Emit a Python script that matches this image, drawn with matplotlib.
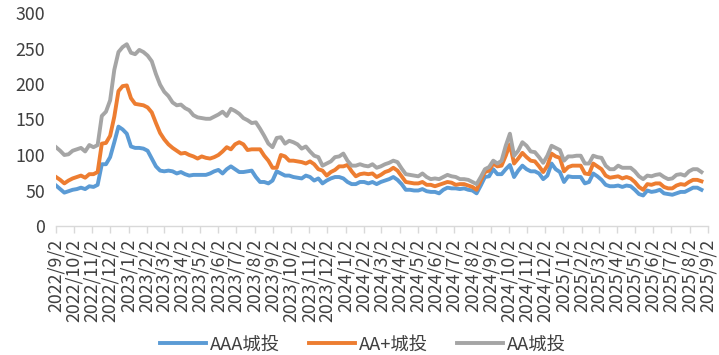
import matplotlib
matplotlib.use("Agg")
import matplotlib.pyplot as plt
import pandas as pd

plt.rcParams["font.family"] = ["Noto Sans CJK SC", "DejaVu Sans"]

# weekly observations, Friday 2022/9/2 onwards
start_date = "2022-09-02"
n_weeks = 156

aaa = [57, 52, 47, 49, 51, 52, 54, 52, 56, 55,
       58, 87, 87, 97, 118, 140, 136, 130, 112, 110,
       110, 109, 106, 95, 84, 78, 77, 78, 77, 74,
       76, 73, 71, 72, 72, 72, 72, 74, 77, 79,
       74, 80, 84, 80, 76, 76, 77, 78, 69, 62,
       62, 60, 64, 77, 74, 71, 71, 69, 68, 67,
       71, 69, 64, 67, 60, 64, 67, 69, 69, 67,
       62, 59, 59, 62, 62, 60, 62, 59, 62, 64,
       66, 69, 65, 59, 51, 51, 50, 50, 52, 49,
       48, 48, 46, 51, 54, 53, 53, 52, 53, 51,
       50, 46, 57, 69, 70, 80, 73, 73, 80, 86,
       69, 78, 85, 80, 77, 77, 74, 66, 71, 88,
       80, 76, 62, 70, 69, 69, 69, 60, 62, 74,
       70, 65, 58, 56, 56, 57, 55, 57, 56, 51,
       45, 43, 50, 48, 49, 51, 46, 45, 44, 46,
       48, 48, 51, 54, 54, 51]

aa_plus = [69, 65, 60, 64, 67, 69, 71, 68, 73, 73,
           76, 116, 117, 127, 154, 190, 197, 198, 180, 172,
           171, 170, 167, 160, 145, 131, 122, 115, 110, 106,
           102, 103, 100, 98, 95, 98, 96, 95, 97, 100,
           105, 111, 108, 115, 118, 115, 107, 108, 108, 108,
           99, 92, 82, 82, 100, 98, 92, 92, 91, 90,
           88, 91, 87, 80, 78, 71, 76, 79, 84, 84,
           86, 77, 70, 73, 74, 73, 74, 69, 72, 76,
           78, 82, 78, 70, 62, 61, 60, 60, 62, 58,
           58, 56, 58, 60, 62, 61, 58, 59, 59, 57,
           55, 51, 64, 76, 78, 88, 84, 85, 99, 115,
           88, 95, 103, 97, 92, 91, 84, 76, 85, 102,
           98, 96, 77, 83, 85, 85, 85, 74, 73, 88,
           84, 80, 71, 68, 69, 70, 67, 69, 67, 62,
           55, 51, 59, 58, 60, 60, 55, 53, 53, 57,
           59, 58, 62, 65, 65, 63]

aa = [111, 106, 100, 101, 106, 108, 110, 105, 114, 111,
      114, 155, 161, 177, 220, 245, 252, 256, 244, 242,
      248, 245, 240, 232, 214, 199, 189, 183, 174, 170,
      171, 166, 163, 156, 153, 152, 151, 151, 154, 157,
      161, 155, 165, 162, 158, 152, 149, 145, 146, 137,
      127, 116, 111, 124, 125, 116, 120, 118, 115, 109,
      112, 105, 99, 97, 85, 88, 91, 97, 98, 102,
      92, 85, 85, 87, 85, 84, 87, 82, 84, 87,
      89, 92, 90, 81, 73, 72, 71, 70, 74, 69,
      66, 67, 66, 69, 72, 70, 69, 66, 66, 65,
      62, 59, 69, 80, 83, 92, 88, 92, 113, 130,
      99, 106, 118, 113, 105, 104, 97, 89, 99, 113,
      110, 107, 92, 98, 98, 99, 99, 88, 88, 99,
      97, 96, 85, 80, 80, 85, 82, 82, 82, 77,
      70, 66, 71, 70, 72, 73, 69, 66, 67, 72,
      73, 71, 77, 80, 80, 76]

series_names = ["AAA城投", "AA+城投", "AA城投"]
colors = ["#5B9BD5", "#ED7D31", "#A5A5A5"]

dates = pd.date_range(start_date, periods=n_weeks, freq="7D")
tick_dates = pd.date_range("2022-09-01", "2025-09-01", freq="MS") + pd.Timedelta(days=1)
tick_labels = [f"{d.year}/{d.month}/{d.day}" for d in tick_dates]

fig = plt.figure(figsize=(7.19, 3.55), dpi=100)
ax = fig.add_axes([56 / 719, 1 - 226 / 355, (708 - 56) / 719, (226 - 13) / 355])

for vals, name, c in zip([aaa, aa_plus, aa], series_names, colors):
    ax.plot(dates, vals, color=c, lw=2.8, label=name, solid_joinstyle="round")

ax.set_xlim(tick_dates[0], tick_dates[-1])
ax.set_ylim(0, 300)
ax.set_yticks(range(0, 301, 50))
ax.set_xticks(tick_dates)
ax.set_xticklabels(tick_labels, rotation=90, fontsize=12.8, color="#404040")
ax.tick_params(axis="y", length=0, labelsize=12.8, labelcolor="#404040", pad=8)
ax.tick_params(axis="x", length=5, color="#D9D9D9", width=1, pad=4)

for s in ["top", "right", "left"]:
    ax.spines[s].set_visible(False)
ax.spines["bottom"].set_color("#D9D9D9")
ax.spines["bottom"].set_linewidth(1)

fig.legend(loc="center", bbox_to_anchor=(0.505, 0.03), ncol=3, frameon=False,
           fontsize=13.2, handlelength=2.5, columnspacing=1.6, handletextpad=0.2,
           labelcolor="#404040")

fig.savefig("out.png", dpi=100)
